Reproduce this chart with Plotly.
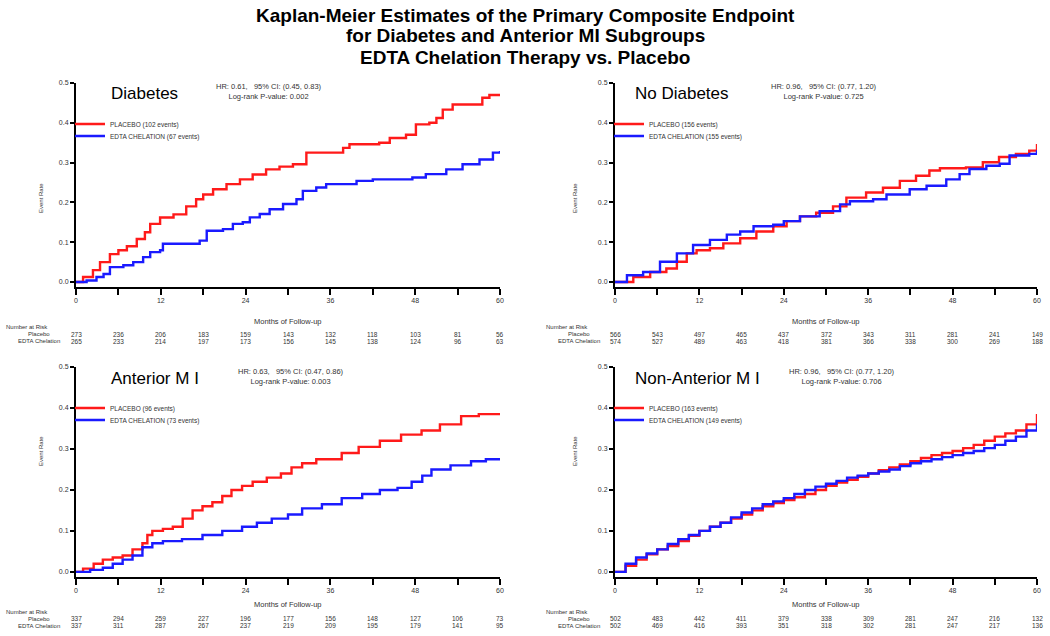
import plotly.graph_objects as go

W, H = 1050, 636

# ---------------- data ----------------
panel_names = ["Diabetes", "No Diabetes", "Anterior M I", "Non-Anterior M I"]
hr_text = ["HR: 0.61,   95% CI: (0.45, 0.83)", "HR: 0.96,   95% CI: (0.77, 1.20)",
           "HR: 0.63,   95% CI: (0.47, 0.86)", "HR: 0.96,   95% CI: (0.77, 1.20)"]
p_text = ["Log-rank P-value: 0.002", "Log-rank P-value: 0.725",
          "Log-rank P-value: 0.003", "Log-rank P-value: 0.706"]
placebo_events = [102, 156, 96, 163]
edta_events = [67, 155, 73, 149]

# Diabetes
diab_pl_t = [0, 1, 2.4, 3.4, 4.8, 6, 7.2, 8.6, 9.75, 10.5, 11.9, 13.8, 15.6, 17, 18, 19.4, 21.3, 23.2, 25, 26.9,
             28.8, 30.7, 32.6, 35.4, 37.8, 38.7, 42.9, 44.4, 46.7, 48.1, 50, 51, 51.9, 53.3, 56.6, 57.5, 58.5, 60]
diab_pl_s = [0, 0.0125, 0.03, 0.05, 0.07, 0.08, 0.09, 0.108, 0.125, 0.146, 0.162, 0.17, 0.19, 0.208, 0.22, 0.233,
             0.246, 0.258, 0.27, 0.283, 0.29, 0.296, 0.325, 0.325, 0.337, 0.346, 0.35, 0.362, 0.37, 0.396, 0.4, 0.412,
             0.433, 0.446, 0.446, 0.463, 0.47, 0.47]
diab_ed_t = [0, 1.5, 2.9, 3.9, 4.8, 6.7, 8.1, 9.5, 10.5, 11.9, 12.3, 15.6, 17.5, 18.5, 20.8, 22.2, 23.6, 24.6, 26,
             27.4, 29.3, 31.2, 32.1, 34, 35.4, 39.7, 42, 47.6, 49.5, 52.4, 54.7, 57.1, 59, 60]
diab_ed_s = [0, 0.004, 0.0125, 0.02, 0.0375, 0.042, 0.05, 0.0625, 0.075, 0.08, 0.096, 0.096, 0.104, 0.129, 0.133,
             0.146, 0.15, 0.1625, 0.171, 0.183, 0.196, 0.208, 0.229, 0.2375, 0.246, 0.254, 0.258, 0.2625, 0.271,
             0.283, 0.296, 0.308, 0.325, 0.329]

# No Diabetes
nodi_pl_t = [0, 2.6, 5, 7.3, 8.8, 10.2, 11.6, 13.5, 15.4, 17.8, 20.1, 22.5, 24.4, 26.3, 28.6, 31, 32.9, 35.7, 38.1,
             40.5, 42.8, 44.7, 46.2, 49.9, 52.3, 54.6, 57, 58.9, 60]
nodi_pl_s = [0, 0.0127, 0.025, 0.034, 0.051, 0.072, 0.08, 0.085, 0.097, 0.11, 0.127, 0.14, 0.153, 0.165, 0.174,
             0.19, 0.212, 0.225, 0.237, 0.254, 0.267, 0.28, 0.286, 0.288, 0.301, 0.314, 0.322, 0.33, 0.347]
nodi_ed_t = [0, 1.7, 4, 6.4, 8.8, 11.1, 13.5, 15.9, 17.8, 19.7, 22.5, 24, 26.3, 29.1, 32, 33.4, 36.7, 38.6, 41.9,
             44.3, 47.1, 49, 50.4, 52.8, 54.7, 56.1, 58.9, 60]
nodi_ed_s = [0, 0.017, 0.025, 0.051, 0.072, 0.093, 0.106, 0.119, 0.127, 0.14, 0.144, 0.153, 0.165, 0.178, 0.195,
             0.203, 0.208, 0.22, 0.233, 0.242, 0.258, 0.271, 0.284, 0.292, 0.297, 0.318, 0.322, 0.331]

# Anterior MI
ant_pl_t = [0, 1, 2.5, 3.8, 5.2, 6.6, 8, 9.4, 10.1, 10.8, 12.3, 13.7, 15.1, 16.5, 17.9, 19.3, 20.7, 22, 23.5, 25,
            27, 29, 30.5, 32, 34, 37.6, 40, 43, 46, 48.9, 51.5, 54.5, 57, 60]
ant_pl_s = [0, 0.008, 0.02, 0.03, 0.035, 0.04, 0.055, 0.07, 0.09, 0.1, 0.105, 0.11, 0.13, 0.15, 0.16, 0.17, 0.185,
            0.2, 0.21, 0.22, 0.23, 0.24, 0.255, 0.265, 0.275, 0.29, 0.305, 0.32, 0.335, 0.345, 0.36, 0.38, 0.385, 0.385]
ant_ed_t = [0, 2, 3.8, 5.2, 6.6, 8, 9.4, 10.8, 12.3, 15, 17.9, 20.7, 23.5, 25.6, 27.7, 30, 32, 34.8, 37.6, 40.5, 43,
            45.5, 47.5, 49, 50.3, 53, 55.9, 58, 60]
ant_ed_s = [0, 0.005, 0.01, 0.02, 0.03, 0.04, 0.06, 0.07, 0.075, 0.08, 0.09, 0.1, 0.11, 0.12, 0.13, 0.14, 0.155,
            0.165, 0.18, 0.19, 0.2, 0.205, 0.22, 0.235, 0.25, 0.26, 0.27, 0.275, 0.275]

# Non-Anterior MI
nant_pl_t = [0, 1.5, 3, 4.5, 6, 7.5, 9, 10.5, 12, 13.5, 15, 16.5, 18, 19.5, 21, 22.5, 24, 25.5, 27, 28.5, 30, 31.5,
             33, 34.5, 36, 37.5, 39, 40.5, 42, 43.5, 45, 46.5, 48, 49.5, 51, 52.5, 54, 55.5, 57, 58.5, 60]
nant_pl_s = [0, 0.015, 0.03, 0.043, 0.055, 0.063, 0.075, 0.088, 0.1, 0.11, 0.12, 0.13, 0.14, 0.15, 0.16, 0.168,
             0.175, 0.182, 0.19, 0.2, 0.21, 0.218, 0.225, 0.232, 0.24, 0.248, 0.255, 0.262, 0.27, 0.278, 0.285, 0.29,
             0.295, 0.302, 0.31, 0.32, 0.33, 0.338, 0.345, 0.36, 0.385]
nant_ed_t = [0, 1.5, 3, 4.5, 6, 7.5, 9, 10.5, 12, 13.5, 15, 16.5, 18, 19.5, 21, 22.5, 24, 25.5, 27, 28.5, 30, 31.5,
             33, 34.5, 36, 37.5, 39, 40.5, 42, 43.5, 45, 46.5, 48, 49.5, 51, 52.5, 54, 55.5, 57, 58.5, 60]
nant_ed_s = [0, 0.02, 0.035, 0.045, 0.055, 0.068, 0.08, 0.09, 0.1, 0.11, 0.12, 0.133, 0.145, 0.155, 0.165, 0.172,
             0.18, 0.19, 0.2, 0.208, 0.215, 0.222, 0.23, 0.235, 0.24, 0.245, 0.25, 0.258, 0.265, 0.27, 0.275, 0.28,
             0.285, 0.29, 0.295, 0.302, 0.31, 0.32, 0.33, 0.345, 0.36]

placebo_t = [diab_pl_t, nodi_pl_t, ant_pl_t, nant_pl_t]
placebo_s = [diab_pl_s, nodi_pl_s, ant_pl_s, nant_pl_s]
edta_t = [diab_ed_t, nodi_ed_t, ant_ed_t, nant_ed_t]
edta_s = [diab_ed_s, nodi_ed_s, ant_ed_s, nant_ed_s]

# Number at risk (every 6 months, 0..60)
risk_months = [0, 6, 12, 18, 24, 30, 36, 42, 48, 54, 60]
risk_placebo = [
    [273, 236, 206, 183, 159, 143, 132, 118, 103, 81, 56],
    [566, 543, 497, 465, 437, 372, 343, 311, 281, 241, 149],
    [337, 294, 259, 227, 196, 177, 156, 148, 127, 106, 73],
    [502, 483, 442, 411, 379, 338, 309, 281, 247, 216, 132],
]
risk_edta = [
    [265, 233, 214, 197, 173, 156, 145, 138, 124, 96, 63],
    [574, 527, 489, 463, 418, 381, 366, 338, 300, 269, 188],
    [337, 311, 287, 267, 237, 219, 209, 195, 179, 141, 95],
    [502, 469, 416, 393, 351, 318, 302, 281, 247, 217, 136],
]
x_ticks = [0, 12, 24, 36, 48, 60]
y_ticks = [0.0, 0.1, 0.2, 0.3, 0.4, 0.5]
title_lines = ["Kaplan-Meier Estimates of the Primary Composite Endpoint",
               "for Diabetes and Anterior MI Subgroups",
               "EDTA Chelation Therapy vs. Placebo"]

# ---------------- layout geometry (pixels) ----------------
FONT = "Liberation Sans, Arial, sans-serif"
RED = "#ff1a1a"
BLUE = "#1a1aff"
TXT = "#333333"

def px(x):
    return x / W

def py(y):
    return 1 - y / H

# (left, right, top(0.5), bottom(axis line)) in pixels
panels = [
    (76, 500, 83, 287),
    (615, 1037, 83, 287),
    (76, 500, 367, 577),
    (615, 1037, 367, 577),
]

fig = go.Figure()
annotations = []

for i in range(4):
    L, R, T, B = panels[i]
    xa = "x" if i == 0 else f"x{i+1}"
    ya = "y" if i == 0 else f"y{i+1}"
    lg1 = "legend" if i == 0 else f"legend{2*i+1}"
    lg2 = f"legend{2*i+2}"
    fig.add_trace(go.Scatter(x=placebo_t[i], y=placebo_s[i], mode="lines", line=dict(color=RED, width=2.4, shape="hv"),
                             name=f"PLACEBO ({placebo_events[i]} events)", xaxis=xa, yaxis=ya, legend=lg1))
    fig.add_trace(go.Scatter(x=edta_t[i], y=edta_s[i], mode="lines", line=dict(color=BLUE, width=2.4, shape="hv"),
                             name=f"EDTA CHELATION ({edta_events[i]} events)", xaxis=xa, yaxis=ya, legend=lg2))

    ax_common = dict(showgrid=False, zeroline=False, showline=True, linecolor="black", linewidth=2,
                     ticks="outside", tickcolor="black", tickwidth=1.5, automargin=False,
                     tickfont=dict(family=FONT, size=7, color=TXT))
    xkey = "xaxis" if i == 0 else f"xaxis{i+1}"
    ykey = "yaxis" if i == 0 else f"yaxis{i+1}"
    fig.layout[xkey] = dict(ax_common, domain=[px(L), px(R)], range=[0, 60], tickvals=x_ticks, ticklen=6,
                            minor=dict(dtick=6, tick0=0, ticks="outside", ticklen=6, tickcolor="black"),
                            anchor=ya)
    fig.layout[ykey] = dict(ax_common, domain=[py(B), py(T)], range=[-0.0125, 0.5], tickvals=y_ticks,
                            tickformat=".1f", ticklen=4, anchor=xa)
    for lg, row in ((lg1, 41), (lg2, 53)):
        fig.layout[lg] = dict(x=px(L - 6), y=py(T + row), xanchor="left", yanchor="middle",
                              bgcolor="rgba(0,0,0,0)", font=dict(family=FONT, size=6.5, color=TXT),
                              itemwidth=30, tracegroupgap=0)

    # panel label
    annotations.append(dict(text=panel_names[i], x=px(L + 33 if i in (0, 2) else L + 18), y=py(T + 11),
                            xref="paper", yref="paper", xanchor="left", yanchor="middle", showarrow=False,
                            font=dict(family=FONT, size=17, color="black")))
    # HR / p-value text
    hr_cx = [269, 824, 291, 842][i]
    annotations.append(dict(text=hr_text[i] + "<br>" + p_text[i], x=px(hr_cx), y=py(T + 9), xref="paper",
                            yref="paper", xanchor="center", yanchor="middle", showarrow=False, align="center",
                            font=dict(family=FONT, size=7.5, color=TXT)))
    # y axis title
    annotations.append(dict(text="Event Rate", x=px(L - 40), y=py((T + B) / 2 - 4), xref="paper", yref="paper",
                            textangle=-90, showarrow=False, font=dict(family=FONT, size=6, color=TXT)))
    # x axis title
    annotations.append(dict(text="Months of Follow-up", x=30, xref=xa, y=py(B + 34), yref="paper",
                            showarrow=False, font=dict(family=FONT, size=7.5, color=TXT)))
    # number at risk
    lx = 4 if i in (0, 2) else 544
    annotations.append(dict(text="Number at Risk", x=px(lx), y=py(B + 40), xref="paper", yref="paper",
                            xanchor="left", showarrow=False, font=dict(family=FONT, size=6, color=TXT)))
    annotations.append(dict(text="Placebo", x=px(lx + 48), y=py(B + 47), xref="paper", yref="paper",
                            xanchor="right", showarrow=False, font=dict(family=FONT, size=6, color=TXT)))
    annotations.append(dict(text="EDTA Chelation", x=px(lx + 58), y=py(B + 54), xref="paper", yref="paper",
                            xanchor="right", showarrow=False, font=dict(family=FONT, size=6, color=TXT)))
    for m, vp, ve in zip(risk_months, risk_placebo[i], risk_edta[i]):
        annotations.append(dict(text=str(vp), x=m, xref=xa, y=py(B + 47), yref="paper", showarrow=False,
                                font=dict(family=FONT, size=6.5, color=TXT)))
        annotations.append(dict(text=str(ve), x=m, xref=xa, y=py(B + 54), yref="paper", showarrow=False,
                                font=dict(family=FONT, size=6.5, color=TXT)))

for k, line in enumerate(title_lines):
    annotations.append(dict(text="<b>" + line + "</b>", x=px(525), y=py(15 + 21 * k), xref="paper", yref="paper",
                            xanchor="center", yanchor="middle", showarrow=False,
                            font=dict(family=FONT, size=19, color="black")))

fig.update_layout(width=W, height=H, margin=dict(l=0, r=0, t=0, b=0), paper_bgcolor="white",
                  plot_bgcolor="white", showlegend=True, annotations=annotations)

fig.write_html("out.html", config={"displayModeBar": False},
               post_script="document.body.style.margin='0';")
